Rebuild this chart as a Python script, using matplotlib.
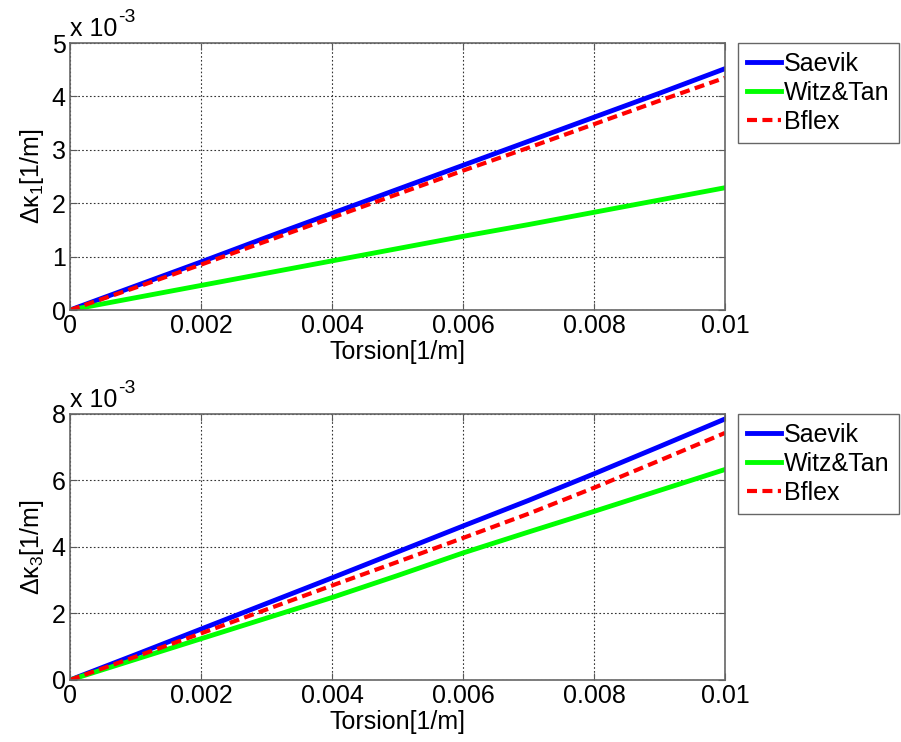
import numpy as np
import matplotlib.pyplot as plt
from matplotlib.ticker import FuncFormatter

plt.rcParams['font.family'] = ['Liberation Sans', 'DejaVu Sans']
plt.rcParams['mathtext.fontset'] = 'custom'
plt.rcParams['mathtext.rm'] = 'Liberation Sans'
plt.rcParams['mathtext.it'] = 'Liberation Sans'
plt.rcParams['mathtext.default'] = 'regular'

# torsion [1/m]
torsion = [0, 0.001, 0.002, 0.003, 0.004, 0.005, 0.006, 0.007, 0.008, 0.009, 0.01]

# delta kappa_1, in units of 1e-3 [1/m]
saevik_k1 = [0, 0.45, 0.90, 1.36, 1.81, 2.26, 2.71, 3.16, 3.61, 4.06, 4.52]
witz_k1 = [0, 0.23, 0.46, 0.69, 0.92, 1.15, 1.38, 1.60, 1.83, 2.06, 2.29]
bflex_k1 = [0, 0.42, 0.85, 1.29, 1.73, 2.17, 2.61, 3.04, 3.48, 3.92, 4.35]

# delta kappa_3, in units of 1e-3 [1/m]
saevik_k3 = [0, 0.76, 1.53, 2.30, 3.07, 3.85, 4.63, 5.40, 6.20, 7.02, 7.85]
witz_k3 = [0, 0.62, 1.24, 1.86, 2.48, 3.14, 3.82, 4.45, 5.07, 5.70, 6.33]
bflex_k3 = [0, 0.70, 1.40, 2.12, 2.84, 3.55, 4.27, 5.00, 5.78, 6.60, 7.43]

series_names = ['Saevik', 'Witz&Tan', 'Bflex']

fig = plt.figure(figsize=(9.01, 7.42), dpi=100)
fig.patch.set_facecolor('white')

panels = [
    ([0.0777, 0.5822, 0.727, 0.3598], (saevik_k1, witz_k1, bflex_k1), 5, [0, 1, 2, 3, 4, 5], r'$\Delta\kappa_1$[1/m]', 43),
    ([0.0777, 0.0836, 0.727, 0.3585], (saevik_k3, witz_k3, bflex_k3), 8, [0, 2, 4, 6, 8], r'$\Delta\kappa_3$[1/m]', 414),
]

fs = 18
for rect, (s, w, b), ymax, yticks, ylab, ltop in panels:
    ax = fig.add_axes(rect)
    ax.plot(torsion, s, color='#0000ff', lw=3.5, label=series_names[0])
    ax.plot(torsion, w, color='#00ff00', lw=3.5, label=series_names[1])
    ax.plot(torsion, b, color='#ff0000', lw=3, ls=(0, (2.4, 1.3)), label=series_names[2])
    ax.set_xlim(0, 0.01)
    ax.set_ylim(0, ymax)
    ax.set_xticks([0, 0.002, 0.004, 0.006, 0.008, 0.01])
    ax.set_yticks(yticks)
    ax.xaxis.set_major_formatter(FuncFormatter(lambda v, p: '%g' % v))
    ax.grid(True, ls=(0, (1.5, 2)), color='0.2', lw=0.8)
    ax.tick_params(direction='in', top=True, right=True, labelsize=fs, length=5,
                   color='0.35', pad=3)
    for sp in ax.spines.values():
        sp.set_color('0.4')
        sp.set_linewidth(1.2)
    ax.set_xlabel('Torsion[1/m]', fontsize=fs, labelpad=1)
    ax.set_ylabel(ylab, fontsize=fs, labelpad=4)
    # MATLAB style exponent label
    ax.text(0.0, 1.026, 'x 10', transform=ax.transAxes, fontsize=fs,
            ha='left', va='baseline')
    ax.text(0.074, 1.079, '-3', transform=ax.transAxes, fontsize=14,
            ha='left', va='baseline')
    ax.legend(loc='upper left', bbox_to_anchor=(738 / 901, 1 - ltop / 742),
              bbox_transform=fig.transFigure, borderaxespad=0, fontsize=fs,
              fancybox=False, edgecolor='0.4', framealpha=1, handlelength=1.35,
              handletextpad=0.15, labelspacing=0.2, borderpad=0.35)

fig.savefig('out.png', dpi=100, facecolor='white')
